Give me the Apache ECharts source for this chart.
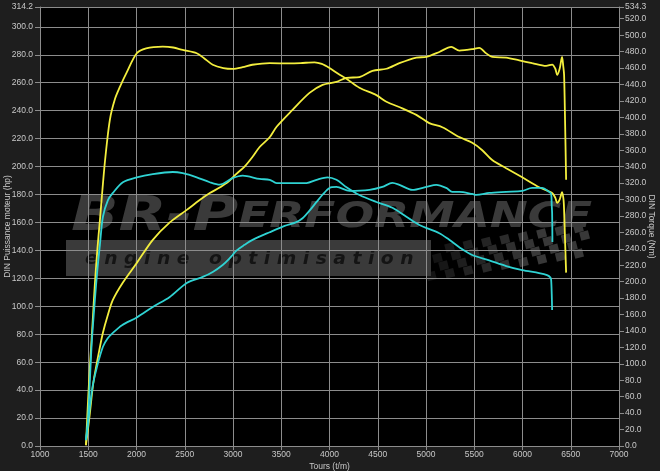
<!DOCTYPE html>
<html><head><meta charset="utf-8">
<script src="https://cdn.jsdelivr.net/npm/echarts@6/dist/echarts.min.js"></script>
<style>html,body{margin:0;padding:0;background:#1e1e1e;}#c{width:660px;height:471px;}</style>
</head><body><div id="c"></div>
<script>
// ---- data ----
const rpmMin = 1000, rpmMax = 7000, rpmStep = 500;
const powerMax = 314.2, torqueMax = 534.3, yStep = 20;

// Yellow torque (Nm, right axis)
const yellowTorqueRpm = [1476,1500,1517,1545,1569,1595,1621,1672,1724,1776,1828,1900,2003,2100,2272,2380,2479,2624,2700,2790,2900,2997,3100,3200,3380,3586,3700,3845,3920,4000,4090,4176,4310,4486,4590,4755,4900,5034,5169,5345,5479,5583,5686,5831,5997,6172,6307,6340,6359,6385,6410,6425,6431,6441,6452];
const yellowTorqueNm  = [1,60,96,150,198,240,275,345,397,422,437,455,478,484,486,485,482,478,472,464,460,459,461,464,466,465.6,466,467,465,460,453,447,436,427,419,411,403,393,388,376,369,360,348,338,327,315,308,302,296,300,309,300,287,250,211];

// Yellow power (hp, left axis)
const yellowPowerRpm = [1476,1497,1517,1548,1569,1610,1652,1700,1755,1859,2003,2169,2345,2521,2655,2760,2862,2950,3038,3120,3203,3276,3380,3452,3617,3793,3928,4072,4176,4310,4445,4590,4724,4900,5003,5138,5262,5345,5420,5479,5552,5624,5686,5831,5966,6100,6245,6307,6340,6359,6385,6410,6422,6431,6441,6452];
const yellowPowerHp  = [0.7,12,23.6,43,52,67,81,93,104.5,117,131,147.5,160,169,176,181,185,189,195,200,207,214,221,228.5,240.6,252.7,258.5,260.6,263.5,264,268.5,270,274,278,278.5,282,285.7,283,283.5,284,285,281,278.5,278,276,274,272,273,270,265.6,270,278.5,272,265.6,233,190.5];

// Cyan torque (Nm, right axis)
const cyanTorqueRpm = [1476,1497,1517,1538,1569,1595,1621,1652,1703,1755,1859,2003,2169,2376,2479,2624,2759,2862,2997,3100,3276,3380,3452,3617,3762,3866,3979,4072,4176,4310,4486,4652,4797,4931,5138,5241,5345,5479,5655,5831,5997,6172,6255,6290,6297,6303,6307];
const cyanTorqueNm  = [7,32,80,129,178,215,245,279,299,308,321,327,331,333.5,332,327,321,318,326,329,325,324,320,320,320,324,327,324,315,305.5,297,290,279,269,259,251,242,232.5,226,219,214,210.5,208,205,202,185,165.5];

// Cyan power (hp, left axis)
const cyanPowerRpm = [1476,1497,1517,1548,1590,1652,1700,1755,1850,2003,2169,2345,2521,2686,2790,2893,2960,3038,3120,3203,3380,3535,3650,3721,3800,3866,3930,4000,4072,4207,4414,4548,4652,4724,4859,5003,5107,5210,5272,5345,5479,5521,5655,5831,5997,6100,6203,6276,6297,6303,6307,6310];
const cyanPowerHp  = [4.3,15,28,43.7,56.6,71,77,81,86.5,92,99.5,106.7,116.7,121,124.6,129.6,134,140,144,147.5,153,157.5,160,163,169,174.7,180,184.7,185.4,182.6,183.3,185.4,188.3,186.9,183.3,185.4,186.9,184.7,181.9,181.9,180.4,179.7,181.1,181.9,182.6,184.7,184.7,181.9,180.4,172,166.8,146];

const axisNames = { x: 'Tours (t/m)', left: 'DIN Puissance moteur (hp)', right: 'DIN Torque (Nm)' };
const watermarkTitle = ['BR-P', 'ERFORMANCE'];
const watermarkSub = 'e n g i n e   o p t i m i s a t i o n';

// ---- build ----
const pairs = (xs, ys) => xs.map((x, i) => [x, ys[i]]);
const YELLOW = '#f3ee3e', CYAN = '#2fd3d3';
const labelColor = '#c8c8c8', lineGray = '#8c8c8c';
const font = 'Liberation Sans, Arial, sans-serif';

const checker = [];
for (let r = 0; r < 4; r++) {
  for (let c = 0; c < 17; c++) {
    if ((r + c) % 2) continue;
    checker.push({
      type: 'rect', silent: true, z: -5,
      x: 426 + c * 9.2 + r * 3, y: 273 - r * 9 - c * 1.4,
      rotation: 0.25,
      shape: { x: 0, y: 0, width: 9, height: 8.5 },
      style: { fill: '#383838', opacity: Math.min(1, 0.35 + c * 0.06) }
    });
  }
}

const lineSeries = (axis, xs, ys, color, z) => ({
  type: 'line', yAxisIndex: axis, data: pairs(xs, ys), showSymbol: false,
  smooth: 0.3, lineStyle: { color: color, width: 1.8 }, z: z
});

const chart = echarts.init(document.getElementById('c'), null, { renderer: 'canvas' });
chart.setOption({
  animation: false,
  backgroundColor: '#1e1e1e',
  grid: { left: 40, right: 41, top: 7, bottom: 25, outerBoundsMode: 'none', containLabel: false,
          show: true, backgroundColor: '#000', borderWidth: 0, z: -10 },
  xAxis: {
    type: 'value', min: rpmMin, max: rpmMax, interval: rpmStep,
    name: axisNames.x, nameLocation: 'middle', nameGap: 16, nameMoveOverlap: false,
    nameTextStyle: { color: labelColor, fontSize: 8.5, fontFamily: font },
    axisLine: { show: true, lineStyle: { color: lineGray } },
    axisTick: { show: true, length: 4, lineStyle: { color: lineGray } },
    axisLabel: { color: labelColor, fontSize: 8.5, fontFamily: font, margin: 4, formatter: v => String(v) },
    splitLine: { show: true, lineStyle: { color: lineGray, width: 1 } }
  },
  yAxis: [{
    type: 'value', min: 0, max: powerMax, interval: yStep, position: 'left',
    name: axisNames.left, nameLocation: 'middle', nameGap: 28, nameMoveOverlap: false,
    nameTextStyle: { color: labelColor, fontSize: 8.5, fontFamily: font },
    axisLine: { show: true, lineStyle: { color: lineGray } },
    axisTick: { show: true, length: 5, lineStyle: { color: lineGray } },
    axisLabel: { color: labelColor, fontSize: 8.5, fontFamily: font, margin: 7, formatter: v => v.toFixed(1) },
    splitLine: { show: true, lineStyle: { color: lineGray, width: 1 } }
  }, {
    type: 'value', min: 0, max: torqueMax, interval: yStep, position: 'right',
    name: axisNames.right, nameLocation: 'middle', nameGap: 28, nameRotate: -90, nameMoveOverlap: false,
    nameTextStyle: { color: labelColor, fontSize: 8.5, fontFamily: font },
    axisLine: { show: true, lineStyle: { color: lineGray } },
    axisTick: { show: true, length: 5, lineStyle: { color: lineGray } },
    axisLabel: { color: labelColor, fontSize: 8.5, fontFamily: font, margin: 6, formatter: v => v.toFixed(1) },
    splitLine: { show: false }
  }],
  graphic: [
    { type: 'text', silent: true, z: -5, x: 71, y: 242, scaleX: 1.3, style: {
        text: '{a|' + watermarkTitle[0] + '}{b|' + watermarkTitle[1] + '}', textVerticalAlign: 'bottom',
        rich: {
          a: { font: 'italic 900 48px "DejaVu Sans", sans-serif', fill: '#3a3a3a' },
          b: { font: 'italic 900 35px "DejaVu Sans", sans-serif', fill: '#3a3a3a' }
        } } },
    { type: 'rect', silent: true, z: -5, shape: { x: 66, y: 240, width: 365, height: 36 }, style: { fill: '#3a3a3a' } },
    { type: 'text', silent: true, z: -4, x: 85, y: 259, scaleX: 1.04, style: { text: watermarkSub, font: 'italic bold 18px "DejaVu Sans", sans-serif', fill: '#141414', textVerticalAlign: 'middle' } },
    ...checker
  ],
  series: [
    lineSeries(1, yellowTorqueRpm, yellowTorqueNm, YELLOW, 3),
    lineSeries(0, yellowPowerRpm, yellowPowerHp, YELLOW, 3),
    lineSeries(1, cyanTorqueRpm, cyanTorqueNm, CYAN, 4),
    lineSeries(0, cyanPowerRpm, cyanPowerHp, CYAN, 4)
  ]
});
</script></body></html>
